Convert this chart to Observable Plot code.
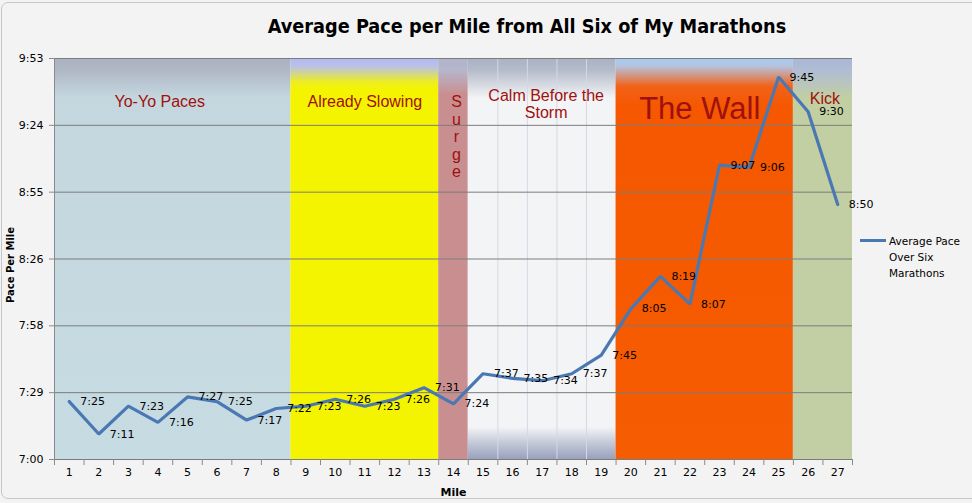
<!DOCTYPE html>
<html>
<head>
<meta charset="utf-8">
<script src="https://cdn.jsdelivr.net/npm/d3@7"></script>
<script src="https://cdn.jsdelivr.net/npm/@observablehq/plot@0.6"></script>
<style>
  html, body { margin: 0; padding: 0; background: #f3f3f3; }
  #chart { position: relative; width: 972px; height: 503px; overflow: hidden; background: #f3f3f3; }
  #frame { position: absolute; left: 1px; top: 2px; width: 990px; height: 497px; border: 1px solid #c6c6c6; border-radius: 7px; box-sizing: border-box; pointer-events: none; }
  #title { height: 45px; box-sizing: border-box; padding-top: 17px; margin-left: 82px; width: 890px; text-align: center;
           font: bold 19.7px "Liberation Sans Narrow", "DejaVu Sans Condensed", sans-serif; line-height: 20px; color: #000; }
  #legend-line { position: absolute; left: 860px; top: 239px; width: 26px; height: 3px; background: #4a78b2; }
  #legend-text { position: absolute; left: 889px; top: 233px; font: 10.5px "DejaVu Sans", sans-serif; line-height: 16px; color: #000; }
  svg { display: block; }
</style>
</head>
<body>
<div id="chart">
  <div id="frame"></div>
  <div id="title">Average Pace per Mile from All Six of My Marathons</div>
  <div id="plot"></div>
  <div id="legend-line"></div>
  <div id="legend-text">Average Pace<br>Over Six<br>Marathons</div>
</div>
<script>
// ---- data ----
const miles = [1,2,3,4,5,6,7,8,9,10,11,12,13,14,15,16,17,18,19,20,21,22,23,24,25,26,27];
const paces = ["7:25","7:11","7:23","7:16","7:27","7:25","7:17","7:22","7:23","7:26","7:23","7:26","7:31","7:24",
               "7:37","7:35","7:34","7:37","7:45","8:05","8:19","8:07","9:07","9:06","9:45","9:30","8:50"];
const yTickLabels = ["7:00","7:29","7:58","8:26","8:55","9:24","9:53"];
const regionNames = ["Yo-Yo Paces","Already Slowing","Surge","Calm Before the Storm","The Wall","Kick"];
const regionLabels = ["Yo-Yo Paces","Already Slowing","S\nu\nr\ng\ne","Calm Before the\nStorm","The Wall","Kick"];
const regionStart = [1, 9, 14, 15, 20, 26];
const regionEnd   = [8, 13, 14, 19, 25, 27];

// ---- styles ----
const regionStyle = {
  "Yo-Yo Paces":          {stops: [[0,"#aab1c0"],[0.03,"#b0b8c6"],[0.1,"#c4d7df"],[1,"#c7dbe2"]], fs: 16, dx: -13, dy: 42, lh: 1.2},
  "Already Slowing":      {stops: [[0,"#b2baf0"],[0.02,"#b9c0ea"],[0.06,"#eeee20"],[0.08,"#f4f400"],[1,"#f4f400"]], fs: 16, dx: 0, dy: 42, lh: 1.2},
  "Surge":                {stops: [[0,"#b0b3cc"],[0.03,"#b6b6cc"],[0.09,"#c98f90"],[1,"#c98f90"]], fs: 16, dx: 3, dy: 78, lh: 1.1},
  "Calm Before the Storm":{stops: [[0,"#a9b1c3"],[0.03,"#b4bbca"],[0.1,"#f3f4f6"],[0.92,"#f3f4f6"],[0.96,"#c4c9d8"],[1,"#98a1bd"]], fs: 16, dx: 4, dy: 45.5, lh: 1.07},
  "The Wall":             {stops: [[0,"#a7cbf3"],[0.02,"#b4c4e0"],[0.07,"#f2621a"],[0.12,"#f55800"],[1,"#f65c02"]], fs: 31, dx: -5, dy: 49, lh: 1.2},
  "Kick":                 {stops: [[0,"#a9b6d6"],[0.03,"#b0bcd4"],[0.1,"#c2cfa3"],[1,"#c2cfa5"]], fs: 16, dx: 2, dy: 39, lh: 1.2}
};
const lineColor = "#4a78b2";
const labelColor = "#a0100e";

// ---- derived tables ----
const toSec = s => { const [m, ss] = s.split(":").map(Number); return m * 60 + ss; };
const rows = miles.map((m, i) => ({mile: m, sec: toSec(paces[i]), label: paces[i]}));
const yMin = toSec(yTickLabels[0]);
const yMax = toSec(yTickLabels[yTickLabels.length - 1]);
const yTicks = yTickLabels.map((_, i) => yMin + i * (yMax - yMin) / (yTickLabels.length - 1));
const regions = regionNames.map((n, i) => ({name: n, label: regionLabels[i], start: regionStart[i], end: regionEnd[i]}));
const boundaries = [miles[0] - 0.5, ...miles.map(m => m + 0.5)];
const calm = regions[3];
const calmLines = boundaries.filter(b => b > calm.start - 0.5 && b < calm.end + 0.5);

const marks = [];
regions.forEach((r, i) => {
  marks.push(Plot.rect([r], {x1: d => d.start - 0.5, x2: d => d.end + 0.5, y1: () => yMin, y2: () => yMax, fill: `url(#grad${i})`}));
});
marks.push(Plot.ruleX(calmLines, {x: d => d, y1: () => yMin, y2: () => yMax, stroke: "#d5d8e3", strokeWidth: 1}));
marks.push(Plot.ruleY(yTicks, {y: d => d, stroke: "#7c7c7c", strokeWidth: 1}));
marks.push(Plot.ruleX([boundaries[0]], {x: d => d, stroke: "#8a8a8a", strokeWidth: 1}));
marks.push(Plot.axisY(yTicks, {tickFormat: d => yTickLabels[yTicks.indexOf(d)], tickSize: 5, tickPadding: 6, stroke: "#8a8a8a", fill: "#000", fontSize: 11, label: null}));
marks.push(Plot.axisX(miles, {tickFormat: d => String(d), tickSize: 0, tickPadding: 9, fill: "#000", fontSize: 11, label: null}));
marks.push(Plot.axisX(boundaries, {tickFormat: () => "", tickSize: 6, stroke: "#8a8a8a", label: null}));
regions.forEach(r => {
  const st = regionStyle[r.name];
  marks.push(Plot.text([r], {x: d => (d.start + d.end) / 2, frameAnchor: "top", text: "label", dx: st.dx, dy: st.dy,
    lineAnchor: "middle", lineHeight: st.lh, fontSize: st.fs, fontFamily: "Liberation Sans, Arial, sans-serif", fill: labelColor}));
});
marks.push(Plot.line(rows, {x: "mile", y: "sec", stroke: lineColor, strokeWidth: 3.2, strokeLinejoin: "miter"}));
marks.push(Plot.text(rows, {x: "mile", y: "sec", text: "label", dx: 11, textAnchor: "start", fontSize: 11, fill: "#000"}));
marks.push(Plot.text(["Pace Per Mile"], {frameAnchor: "left", text: d => d, rotate: -90, textAnchor: "middle", lineAnchor: "middle", dx: -44, dy: 6, fontSize: 10, fontWeight: "bold", fill: "#000"}));
marks.push(Plot.text(["Mile"], {frameAnchor: "bottom", text: d => d, lineAnchor: "middle", dy: 33, fontSize: 11, fontWeight: "bold", fill: "#000"}));

const svg = Plot.plot({
  width: 972,
  height: 458,
  marginLeft: 54,
  marginRight: 120,
  marginTop: 13,
  marginBottom: 44,
  x: {type: "linear", domain: [boundaries[0], boundaries[boundaries.length - 1]], axis: null},
  y: {type: "linear", domain: [yMin, yMax], axis: null},
  style: {background: "transparent", fontFamily: "DejaVu Sans, sans-serif", fontSize: "11px", color: "#000", overflow: "visible"},
  marks
});

const ns = "http://www.w3.org/2000/svg";
const defs = document.createElementNS(ns, "defs");
regions.forEach((r, i) => {
  const g = document.createElementNS(ns, "linearGradient");
  g.setAttribute("id", `grad${i}`);
  g.setAttribute("x1", "0"); g.setAttribute("y1", "0");
  g.setAttribute("x2", "0"); g.setAttribute("y2", "1");
  regionStyle[r.name].stops.forEach(([o, c]) => {
    const s = document.createElementNS(ns, "stop");
    s.setAttribute("offset", o);
    s.setAttribute("stop-color", c);
    g.appendChild(s);
  });
  defs.appendChild(g);
});
svg.insertBefore(defs, svg.firstChild);
document.getElementById("plot").appendChild(svg);
</script>
</body>
</html>
